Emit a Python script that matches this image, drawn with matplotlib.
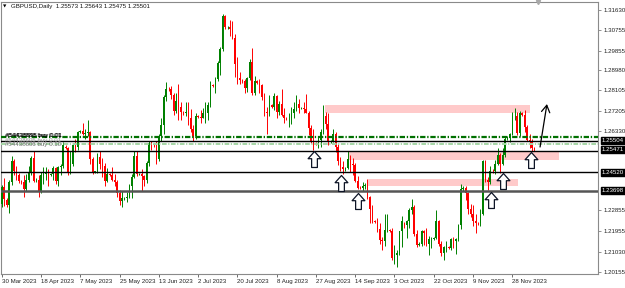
import matplotlib
matplotlib.use("Agg")
import matplotlib.pyplot as plt
import numpy as np
from matplotlib.path import Path

plt.rcParams['font.family'] = ['Liberation Sans', 'DejaVu Sans']

# header
symbol = "GBPUSD,Daily"
last_ohlc = "1.25573 1.25643 1.25475 1.25501"

# date labels every 16 bars (broker has Sunday bars)
date_labels = ["30 Mar 2023", "18 Apr 2023", "7 May 2023", "25 May 2023", "13 Jun 2023",
               "2 Jul 2023", "20 Jul 2023", "8 Aug 2023", "27 Aug 2023", "14 Sep 2023",
               "3 Oct 2023", "22 Oct 2023", "9 Nov 2023", "28 Nov 2023"]
bars_per_label = 16

price_ticks = [1.31630, 1.30755, 1.29855, 1.28980, 1.28105, 1.27205, 1.26330,
               1.22855, 1.21955, 1.21030, 1.20155]

# daily candles
opens = [1.2315, 1.2388, 1.2330, 1.2310, 1.2410, 1.2500, 1.2460, 1.2440, 1.2415, 1.2410,
         1.2380, 1.2420, 1.2455, 1.2515, 1.2418, 1.2420, 1.2365, 1.2440, 1.2445, 1.2450,
         1.2440, 1.2445, 1.2470, 1.2415, 1.2475, 1.2480, 1.2565, 1.2560, 1.2450, 1.2490,
         1.2570, 1.2565, 1.2630, 1.2635, 1.2620, 1.2625, 1.2630, 1.2510, 1.2455, 1.2455,
         1.2520, 1.2490, 1.2480, 1.2415, 1.2445, 1.2440, 1.2420, 1.2410, 1.2360, 1.2325,
         1.2340, 1.2340, 1.2345, 1.2390, 1.2430, 1.2525, 1.2445, 1.2445, 1.2435, 1.2420,
         1.2495, 1.2580, 1.2575, 1.2570, 1.2510, 1.2610, 1.2660, 1.2780, 1.2818, 1.2815,
         1.2790, 1.2720, 1.2765, 1.2740, 1.2715, 1.2710, 1.2715, 1.2690, 1.2640, 1.2610,
         1.2700, 1.2695, 1.2690, 1.2710, 1.2710, 1.2745, 1.2835, 1.2830, 1.2860, 1.2930,
         1.2990, 1.3135, 1.3087, 1.3090, 1.3078, 1.3040, 1.2925, 1.2865, 1.2855, 1.2850,
         1.2820, 1.2865, 1.2935, 1.2800, 1.2850, 1.2845, 1.2835, 1.2780, 1.2715, 1.2710,
         1.2745, 1.2740, 1.2785, 1.2715, 1.2750, 1.2705, 1.2690, 1.2688, 1.2690, 1.2710,
         1.2730, 1.2750, 1.2735, 1.2735, 1.2730, 1.2710, 1.2645, 1.2590, 1.2580, 1.2575,
         1.2595, 1.2630, 1.2700, 1.2665, 1.2585, 1.2590, 1.2620, 1.2565, 1.2500, 1.2475,
         1.2465, 1.2470, 1.2510, 1.2490, 1.2485, 1.2415, 1.2385, 1.2382, 1.2390, 1.2395,
         1.2345, 1.2290, 1.2240, 1.2235, 1.2205, 1.2155, 1.2150, 1.2200, 1.2200, 1.2195,
         1.2075, 1.2090, 1.2100, 1.2195, 1.2230, 1.2220, 1.2240, 1.2285, 1.2300, 1.2180,
         1.2135, 1.2140, 1.2195, 1.2185, 1.2140, 1.2160, 1.2160, 1.2165, 1.2240, 1.2140,
         1.2100, 1.2125, 1.2125, 1.2120, 1.2160, 1.2150, 1.2160, 1.2220, 1.2380, 1.2385,
         1.2360, 1.2290, 1.2270, 1.2240, 1.2230, 1.2228, 1.2270, 1.2500, 1.2420, 1.2410,
         1.2460, 1.2458, 1.2490, 1.2530, 1.2490, 1.2530, 1.2600, 1.2605, 1.2620, 1.2700,
         1.2700, 1.2625, 1.2710, 1.2705, 1.2650, 1.2595, 1.2590, 1.25573]
highs = [1.2395, 1.2425, 1.2338, 1.2420, 1.2525, 1.2510, 1.2480, 1.2450, 1.2420, 1.2440,
         1.2445, 1.2480, 1.2525, 1.2546, 1.2425, 1.2440, 1.2455, 1.2475, 1.2475, 1.2465,
         1.2448, 1.2480, 1.2475, 1.2480, 1.2490, 1.2584, 1.2570, 1.2565, 1.2545, 1.2580,
         1.2600, 1.2635, 1.2638, 1.2668, 1.2640, 1.2680, 1.2635, 1.2520, 1.2460, 1.2535,
         1.2545, 1.2515, 1.2495, 1.2470, 1.2450, 1.2475, 1.2445, 1.2420, 1.2375, 1.2370,
         1.2345, 1.2365, 1.2400, 1.2445, 1.2544, 1.2545, 1.2450, 1.2465, 1.2440, 1.2500,
         1.2590, 1.2590, 1.2580, 1.2590, 1.2620, 1.2690, 1.2790, 1.2848, 1.2825, 1.2830,
         1.2800, 1.2800, 1.2840, 1.2760, 1.2720, 1.2760, 1.2760, 1.2730, 1.2660, 1.2710,
         1.2705, 1.2725, 1.2735, 1.2760, 1.2760, 1.2850, 1.2840, 1.2870, 1.2940, 1.3000,
         1.3144, 1.3142, 1.3095, 1.3120, 1.3115, 1.3060, 1.2955, 1.2890, 1.2860, 1.2860,
         1.2870, 1.2950, 1.2995, 1.2875, 1.2855, 1.2860, 1.2840, 1.2800, 1.2740, 1.2790,
         1.2750, 1.2800, 1.2790, 1.2765, 1.2818, 1.2735, 1.2695, 1.2710, 1.2740, 1.2760,
         1.2790, 1.2775, 1.2740, 1.2760, 1.2795, 1.2720, 1.2660, 1.2640, 1.2585, 1.2605,
         1.2640, 1.2746, 1.2715, 1.2710, 1.2595, 1.2640, 1.2630, 1.2575, 1.2520, 1.2500,
         1.2475, 1.2545, 1.2530, 1.2515, 1.2495, 1.2435, 1.2390, 1.2410, 1.2405, 1.2424,
         1.2350, 1.2310, 1.2245, 1.2250, 1.2230, 1.2170, 1.2270, 1.2270, 1.2205, 1.2210,
         1.2135, 1.2110, 1.2195, 1.2260, 1.2235, 1.2245, 1.2295, 1.2337, 1.2310, 1.2200,
         1.2145, 1.2200, 1.2200, 1.2210, 1.2175, 1.2170, 1.2170, 1.2285, 1.2245, 1.2150,
         1.2130, 1.2150, 1.2130, 1.2165, 1.2170, 1.2165, 1.2225, 1.2400, 1.2390, 1.2390,
         1.2365, 1.2315, 1.2310, 1.2270, 1.2235, 1.2290, 1.2505, 1.2505, 1.2430, 1.2480,
         1.2465, 1.2505, 1.2560, 1.2535, 1.2560, 1.2610, 1.2610, 1.2625, 1.2715, 1.2733,
         1.2715, 1.2720, 1.2715, 1.2725, 1.2660, 1.2620, 1.2600, 1.25643]
lows = [1.2300, 1.2305, 1.2300, 1.2275, 1.2395, 1.2440, 1.2420, 1.2405, 1.2400, 1.2345,
        1.2370, 1.2410, 1.2440, 1.2410, 1.2410, 1.2345, 1.2360, 1.2400, 1.2420, 1.2390,
        1.2435, 1.2420, 1.2400, 1.2390, 1.2440, 1.2470, 1.2555, 1.2440, 1.2445, 1.2480,
        1.2540, 1.2550, 1.2625, 1.2615, 1.2600, 1.2610, 1.2490, 1.2445, 1.2450, 1.2450,
        1.2465, 1.2430, 1.2390, 1.2410, 1.2435, 1.2415, 1.2390, 1.2345, 1.2308, 1.2300,
        1.2330, 1.2320, 1.2340, 1.2340, 1.2425, 1.2435, 1.2440, 1.2370, 1.2390, 1.2405,
        1.2480, 1.2550, 1.2565, 1.2490, 1.2500, 1.2590, 1.2620, 1.2765, 1.2810, 1.2775,
        1.2705, 1.2710, 1.2680, 1.2680, 1.2705, 1.2700, 1.2660, 1.2630, 1.2590, 1.2600,
        1.2690, 1.2670, 1.2690, 1.2670, 1.2680, 1.2740, 1.2825, 1.2800, 1.2850, 1.2880,
        1.2985, 1.3080, 1.3080, 1.3050, 1.3035, 1.2870, 1.2840, 1.2840, 1.2845, 1.2800,
        1.2805, 1.2855, 1.2790, 1.2790, 1.2840, 1.2800, 1.2770, 1.2700, 1.2620, 1.2700,
        1.2735, 1.2725, 1.2690, 1.2705, 1.2700, 1.2670, 1.2680, 1.2650, 1.2665, 1.2690,
        1.2720, 1.2710, 1.2730, 1.2710, 1.2710, 1.2615, 1.2580, 1.2548, 1.2570, 1.2560,
        1.2565, 1.2620, 1.2640, 1.2570, 1.2580, 1.2585, 1.2540, 1.2485, 1.2460, 1.2446,
        1.2460, 1.2465, 1.2455, 1.2440, 1.2410, 1.2380, 1.2378, 1.2370, 1.2380, 1.2335,
        1.2230, 1.2230, 1.2230, 1.2190, 1.2140, 1.2110, 1.2130, 1.2190, 1.2190, 1.2070,
        1.2050, 1.2037, 1.2090, 1.2125, 1.2210, 1.2165, 1.2210, 1.2270, 1.2175, 1.2125,
        1.2130, 1.2130, 1.2135, 1.2130, 1.2090, 1.2120, 1.2155, 1.2160, 1.2130, 1.2085,
        1.2070, 1.2105, 1.2115, 1.2110, 1.2120, 1.2095, 1.2150, 1.2205, 1.2370, 1.2330,
        1.2270, 1.2255, 1.2215, 1.2187, 1.2220, 1.2215, 1.2265, 1.2410, 1.2375, 1.2400,
        1.2450, 1.2445, 1.2485, 1.2447, 1.2485, 1.2520, 1.2595, 1.2585, 1.2615, 1.2680,
        1.2615, 1.2610, 1.2700, 1.2630, 1.2590, 1.2560, 1.2545, 1.25475]
closes = [1.2388, 1.2335, 1.2310, 1.2410, 1.2500, 1.2460, 1.2440, 1.2415, 1.2410, 1.2380,
          1.2420, 1.2455, 1.2515, 1.2415, 1.2420, 1.2365, 1.2440, 1.2445, 1.2450, 1.2440,
          1.2445, 1.2470, 1.2415, 1.2475, 1.2480, 1.2570, 1.2560, 1.2450, 1.2490, 1.2570,
          1.2565, 1.2630, 1.2635, 1.2620, 1.2625, 1.2630, 1.2510, 1.2455, 1.2455, 1.2520,
          1.2490, 1.2480, 1.2415, 1.2445, 1.2440, 1.2420, 1.2410, 1.2360, 1.2325, 1.2340,
          1.2340, 1.2345, 1.2390, 1.2430, 1.2525, 1.2445, 1.2445, 1.2435, 1.2420, 1.2495,
          1.2580, 1.2575, 1.2570, 1.2510, 1.2610, 1.2660, 1.2780, 1.2818, 1.2815, 1.2790,
          1.2720, 1.2765, 1.2740, 1.2715, 1.2710, 1.2715, 1.2690, 1.2640, 1.2610, 1.2700,
          1.2695, 1.2690, 1.2710, 1.2710, 1.2745, 1.2835, 1.2830, 1.2860, 1.2930, 1.2990,
          1.3135, 1.3087, 1.3090, 1.3078, 1.3040, 1.2925, 1.2865, 1.2855, 1.2850, 1.2820,
          1.2865, 1.2935, 1.2800, 1.2850, 1.2845, 1.2835, 1.2780, 1.2715, 1.2710, 1.2745,
          1.2740, 1.2785, 1.2715, 1.2750, 1.2705, 1.2690, 1.2688, 1.2690, 1.2710, 1.2730,
          1.2750, 1.2735, 1.2735, 1.2730, 1.2710, 1.2645, 1.2590, 1.2580, 1.2575, 1.2595,
          1.2630, 1.2700, 1.2665, 1.2585, 1.2590, 1.2620, 1.2565, 1.2500, 1.2475, 1.2465,
          1.2470, 1.2510, 1.2490, 1.2485, 1.2415, 1.2385, 1.2382, 1.2390, 1.2395, 1.2345,
          1.2290, 1.2240, 1.2235, 1.2205, 1.2155, 1.2150, 1.2200, 1.2200, 1.2195, 1.2075,
          1.2090, 1.2100, 1.2195, 1.2240, 1.2220, 1.2240, 1.2285, 1.2300, 1.2180, 1.2135,
          1.2140, 1.2195, 1.2185, 1.2140, 1.2160, 1.2160, 1.2165, 1.2240, 1.2140, 1.2100,
          1.2125, 1.2125, 1.2120, 1.2160, 1.2150, 1.2160, 1.2220, 1.2380, 1.2385, 1.2360,
          1.2290, 1.2270, 1.2240, 1.2230, 1.2228, 1.2270, 1.2500, 1.2420, 1.2410, 1.2460,
          1.2458, 1.2490, 1.2530, 1.2490, 1.2530, 1.2600, 1.2605, 1.2620, 1.2700, 1.2700,
          1.2625, 1.2710, 1.2705, 1.2650, 1.2595, 1.2590, 1.2557, 1.25501]

# horizontal levels (price)
green_level = 1.2606
light_green_level = 1.2575
black_levels = [1.2590, 1.2547, 1.2452]
gray_level = 1.2372

# zones: (start bar, end bar, low price, high price)
zones = [(131.5, 215.0, 1.2712, 1.2747),
         (141.5, 227.0, 1.2508, 1.2545),
         (149.2, 210.3, 1.2394, 1.2423)]

# up arrows (bar, price)
arrow_bars = [127.2, 138.2, 145.1, 199.3, 204.2, 215.5]
arrow_prices = [1.2510, 1.2405, 1.2326, 1.2333, 1.2416, 1.2506]

# hand drawn arrow: from -> to
sketch_from = (219.3, 1.2563)
sketch_to = (222.1, 1.2751)

# order labels on the left
order_texts = ["#54438888 buy 0.01", "#54438898 buy 0.01", "#54438605 buy 0.01", "#54438606 buy 0.10"]
order_prices = [1.26133, 1.26122, 1.25930, 1.25717]

# boxed prices on the scale (label, price where box sits)
box_labels = ["1.25504", "1.25471", "1.24520", "1.23698"]
box_prices = [1.2590, 1.2551, 1.2453, 1.2371]

fs = 4.4

fig = plt.figure(figsize=(6.25, 2.88), dpi=100)
ax = fig.add_axes([1 / 625, 13.7 / 288, 597 / 625, 272.3 / 288])
ax.set_xlim(-0.3, 242.9)
ax.set_ylim(1.20054, 1.31980)

x = np.arange(len(closes))
o = np.array(opens)
h = np.array(highs)
l = np.array(lows)
c = np.array(closes)
up = c >= o
col = np.where(up, '#008000', '#ff0000')

for z0, z1, lo, hi in zones:
    ax.fill_between([z0, z1], lo, hi, color='#ffcaca', lw=0, zorder=1)

ax.vlines(x, l, h, colors=col, lw=0.7, zorder=3)
body = np.maximum(np.abs(c - o), 0.00008)
ax.bar(x, body, bottom=np.minimum(o, c), width=0.65, color=col, lw=0, zorder=3)

dd = (2.4, 0.8, 0.6, 0.8)
ax.axhline(green_level, color='#007000', lw=1.6, dashes=dd, zorder=4)
ax.axhline(light_green_level, color='#a6d6a6', lw=1.4, dashes=dd, zorder=4)
for lv in black_levels:
    ax.axhline(lv, color='black', lw=1.0, zorder=4)
ax.axhline(gray_level, color='#555555', lw=1.8, zorder=4)

# up arrows
verts = [(0, 1), (0.8, 0.1), (0.36, 0.1), (0.36, -1), (-0.36, -1), (-0.36, 0.1), (-0.8, 0.1), (0, 1)]
codes = [Path.MOVETO] + [Path.LINETO] * 6 + [Path.CLOSEPOLY]
up_arrow = Path(verts, codes)
ax.plot(arrow_bars, arrow_prices, ls='none', marker=up_arrow, ms=11.5,
        mfc='white', mec='#0d1426', mew=0.9, zorder=6)

ax.annotate('', xy=sketch_to, xytext=sketch_from,
            arrowprops=dict(arrowstyle='->,head_length=0.5,head_width=0.3',
                            color='black', lw=0.9, shrinkA=0, shrinkB=0), zorder=6)

# order labels
order_colors = ['black', 'black', '#9a9a9a', '#6e6e6e']
order_dx = [1.5, 1.7, 1.5, 1.5]
for t, p, cc, dx in zip(order_texts, order_prices, order_colors, order_dx):
    ax.text(dx, p, t, fontsize=fs, color=cc, va='center', ha='left', zorder=7)

# price scale
ax.yaxis.tick_right()
ax.set_yticks(price_ticks)
ax.set_yticklabels([f"{p:.5f}" for p in price_ticks])
ax.tick_params(axis='y', labelsize=fs, length=2.5, width=0.6, color='#808080',
               labelcolor='#222222', pad=1.5)

for lab, p in zip(box_labels, box_prices):
    ax.annotate(lab, xy=(1, p), xycoords=('axes fraction', 'data'), xytext=(2.6, 0),
                textcoords='offset points', fontsize=fs, color='white', va='center', ha='left',
                bbox=dict(boxstyle='square,pad=0.18', fc='black', ec='black'),
                annotation_clip=False)

# time scale
ax.set_xticks(np.arange(len(date_labels)) * bars_per_label)
ax.set_xticklabels(date_labels, ha='left')
ax.tick_params(axis='x', labelsize=fs, length=2.5, width=0.6, color='#555555',
               labelcolor='#222222', pad=1.2)

for s in ax.spines.values():
    s.set_color('#8a8a8a')
    s.set_linewidth(0.8)

# chart shift marker
ax.plot([218.5], [1.31980], marker='v', color='#a8a8a8', ms=3, clip_on=False, zorder=8)

fig.text(3 / 625, 1 - 6.5 / 288, '\u25bc', fontsize=3.2, va='center', ha='left',
         family=['DejaVu Sans'])
fig.text(10.7 / 625, 1 - 6.5 / 288, f"{symbol}  {last_ohlc}", fontsize=fs, va='center',
         ha='left', color='#111111')

fig.savefig('out.png', dpi=100)
